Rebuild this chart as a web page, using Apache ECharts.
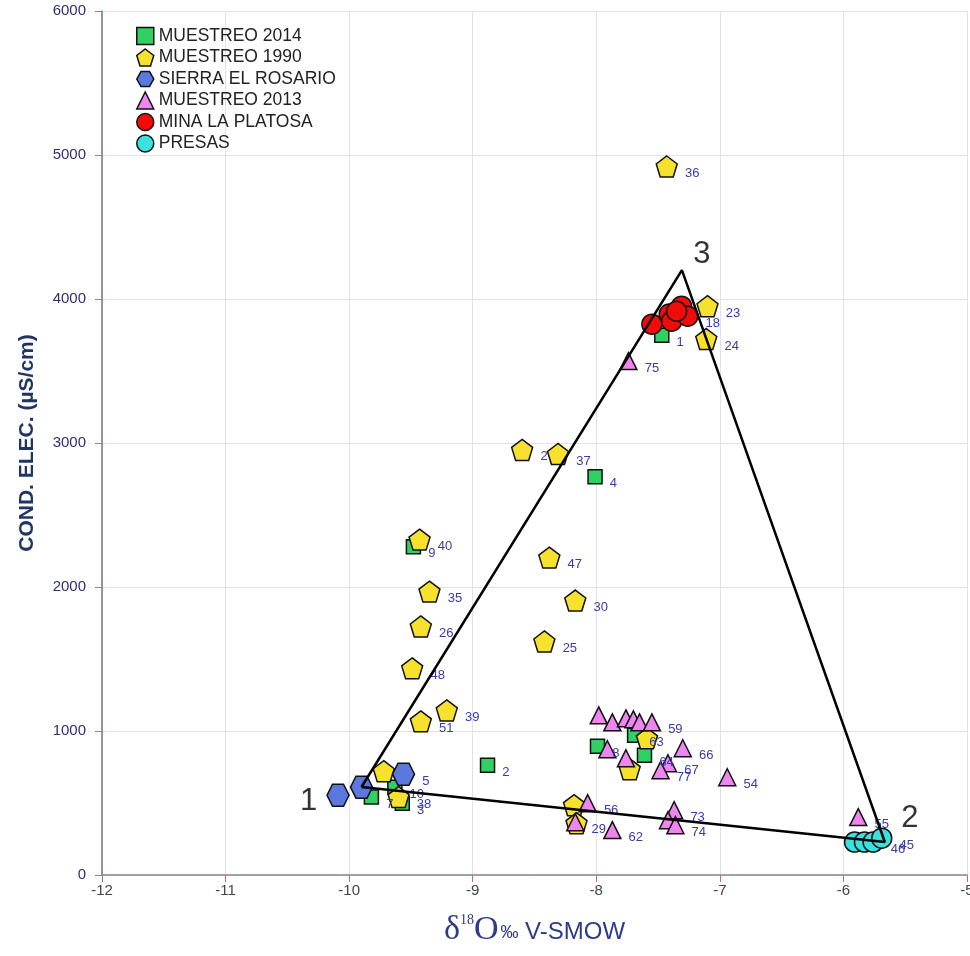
<!DOCTYPE html>
<html><head><meta charset="utf-8">
<script src="https://cdn.jsdelivr.net/npm/echarts@6/dist/echarts.min.js"></script>
<style>html,body{margin:0;padding:0;background:#fff}#c{width:970px;height:956px}</style>
</head><body><div id="c"></div>
<script>
// [delta18O, conductivity, label]
const muestreo2014 = [[-9.48,2280,'9'],[-8.01,2765,'4'],[-8.88,762,'2'],[-9.82,541,'7'],[-9.63,610,'10'],[-9.57,499,'3'],[-7.47,3749,'1'],[-7.99,894,'8'],[-7.69,970,'63'],[-7.61,832,'64']];
const muestreo1990 = [[-7.43,4920,'36'],[-7.10,3950,'23'],[-7.11,3722,'24'],[-8.60,2952,'2'],[-8.31,2924,'37'],[-8.38,2204,'47'],[-8.17,1906,'30'],[-8.42,1622,'25'],[-9.43,2329,'40'],[-9.35,1968,'35'],[-9.42,1726,'26'],[-9.49,1435,'48'],[-9.21,1143,'39'],[-9.42,1067,'51'],[-9.72,721,''],[-9.60,541,'38'],[-7.73,735,''],[-7.59,949,''],[-8.18,485,''],[-8.16,360,'']];
const sierraRosario = [[-10.09,554,''],[-9.90,610,''],[-9.56,700,'5']];
const muestreo2013 = [[-7.74,3569,'75'],[-7.98,1109,''],[-7.87,1060,''],[-7.76,1088,''],[-7.70,1081,''],[-7.65,1060,''],[-7.55,1060,'59'],[-7.91,873,''],[-7.76,811,''],[-7.42,776,'67'],[-7.48,728,'77'],[-7.30,880,'66'],[-6.94,679,'54'],[-8.07,499,'56'],[-8.17,367,'29'],[-7.87,312,'62'],[-7.37,450,'73'],[-7.42,381,''],[-7.36,346,'74'],[-5.88,402,'55']];
const minaPlatosa = [[-7.55,3825,''],[-7.41,3895,''],[-7.39,3846,''],[-7.31,3950,''],[-7.26,3881,'18'],[-7.35,3915,'']];
const presas = [[-5.91,229,''],[-5.83,229,''],[-5.76,229,'46'],[-5.69,256,'45']];
const triangleVertices = [[-9.90,611,'1'],[-5.665,229,'2'],[-7.307,4201,'3']];
const xTicks = [-12,-11,-10,-9,-8,-7,-6,-5];
const yTicks = [0,1000,2000,3000,4000,5000,6000];

const PENT = 'path://M50,0 L100,38 L81,100 L19,100 L0,38 Z';
const HEX = 'path://M0,50 L25,6 L75,6 L100,50 L75,94 L25,94 Z';
const lbl = {show:true, position:'right', distance:7, offset:[0,7], formatter:p=>p.data[2], color:'#3a3aa8', fontSize:13, fontFamily:'Liberation Sans, Arial'};
function sc(name, data, symbol, size, color){
  return {type:'scatter', name, data, symbol, symbolSize:size,
    itemStyle:{color, borderColor:'#111', borderWidth:1.5, opacity:1}, label:lbl, z:3};
}
const tri = triangleVertices.map(v=>[v[0],v[1]]).concat([[triangleVertices[0][0],triangleVertices[0][1]]]);
const chart = echarts.init(document.getElementById('c'));
chart.setOption({
  animation:false,
  grid:{left:102,right:3,top:11,bottom:81,containLabel:false,outerBoundsMode:'none'},
  legend:{orient:'vertical',left:131,top:21,itemWidth:17,itemHeight:17,itemGap:1.5,
    textStyle:{fontSize:17.5,lineHeight:20,color:'#222',fontFamily:'Liberation Sans, Arial'},
    itemStyle:{borderColor:'#111',borderWidth:1.5},
    data:['MUESTREO 2014','MUESTREO 1990','SIERRA EL ROSARIO','MUESTREO 2013','MINA LA PLATOSA','PRESAS']},
  xAxis:{type:'value',min:xTicks[0],max:xTicks[xTicks.length-1],interval:1,
    axisLine:{show:true,onZero:false,lineStyle:{color:'#888',width:1.5}},
    axisTick:{show:true,length:7,lineStyle:{color:'#e06070'}},
    axisLabel:{color:'#444',fontSize:15,margin:8,fontFamily:'Liberation Sans Narrow, Liberation Sans, Arial'},
    splitLine:{show:true,lineStyle:{color:'#e2e2e2'}},
    name:'{d|δ}{s|18}{d|O}{p|‰}{t| V-SMOW}',nameLocation:'middle',nameGap:38,
    nameTextStyle:{rich:{
      d:{fontSize:34,color:'#2e3a8c',fontFamily:'Liberation Serif, serif'},
      s:{fontSize:14,color:'#2e3a8c',fontFamily:'Liberation Serif, serif',verticalAlign:'top',padding:[0,0,14,0]},
      p:{fontSize:18,color:'#2e3a8c',fontFamily:'Liberation Sans Narrow, Liberation Sans',padding:[6,0,0,2]},
      t:{fontSize:24,color:'#2e3a8c',fontFamily:'Liberation Sans Narrow, Liberation Sans',padding:[4,0,0,0]}}}},
  yAxis:{type:'value',min:yTicks[0],max:yTicks[yTicks.length-1],interval:1000,
    axisLine:{show:true,onZero:false,lineStyle:{color:'#777',width:1.5}},
    axisTick:{show:true,length:7,lineStyle:{color:'#e06070'}},
    axisLabel:{color:'#2e2e78',fontSize:15,margin:16,formatter:v=>String(v),fontFamily:'Liberation Sans, Arial'},
    splitLine:{show:true,lineStyle:{color:'#e2e2e2'}},
    name:'COND. ELEC. (µS/cm)',nameLocation:'middle',nameGap:64,nameRotate:90,
    nameTextStyle:{fontSize:21,fontWeight:'bold',color:'#1f3564',fontFamily:'Liberation Sans Narrow, Liberation Sans, Arial'}},
  series:[
    sc('MUESTREO 2014',muestreo2014,'rect',14,'#2fd163'),
    sc('MUESTREO 1990',muestreo1990,PENT,21,'#f6e12c'),
    sc('SIERRA EL ROSARIO',sierraRosario,HEX,22,'#5a78de'),
    sc('MUESTREO 2013',muestreo2013,'triangle',17,'#ef86ef'),
    sc('MINA LA PLATOSA',minaPlatosa,'circle',20,'#f50a0a'),
    sc('PRESAS',presas,'circle',20,'#3be0e0'),
    {type:'line',data:tri,symbol:'none',lineStyle:{color:'#000',width:2.5},z:5,silent:true},
    {type:'scatter',data:triangleVertices,symbolSize:0,z:6,silent:true,
      label:{show:true,formatter:p=>p.data[2],fontSize:31,color:'#000',fontFamily:'Liberation Sans, Arial',
        position:'inside'},
      labelLayout:function(p){
        const i=p.dataIndex; const r=p.labelRect;
        if(i===0) return {x:r.x-53,y:r.y+14};
        if(i===1) return {x:r.x+25,y:r.y-24};
        return {x:r.x+20,y:r.y-16};
      }}
  ]
});
</script></body></html>
